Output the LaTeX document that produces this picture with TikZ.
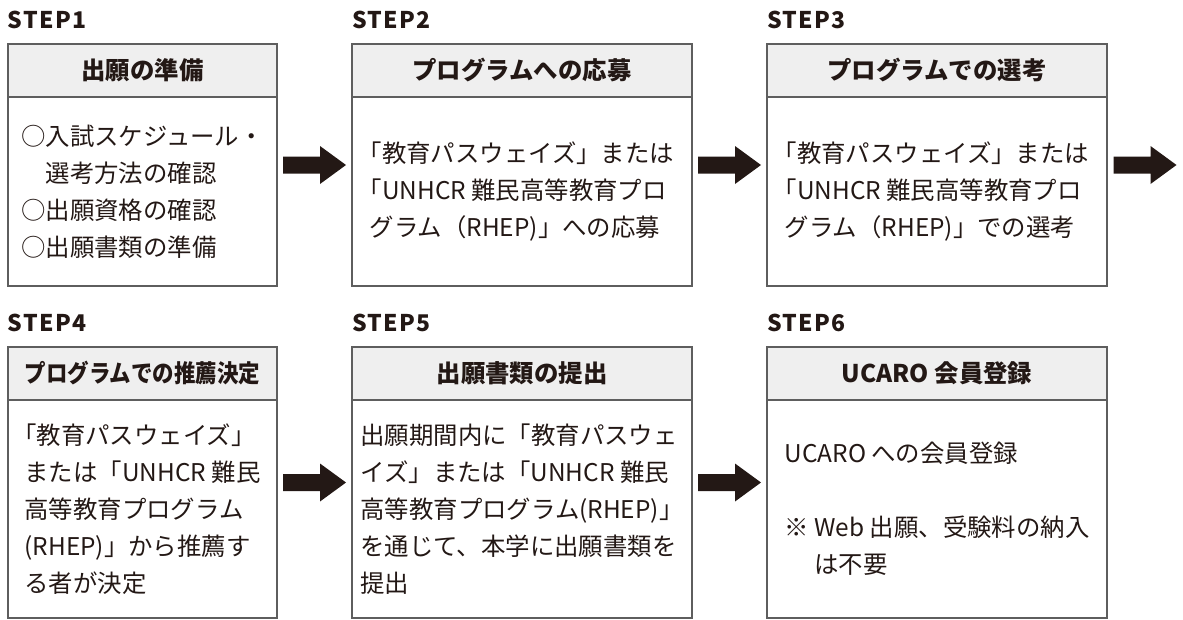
\documentclass[tikz,border=0pt]{standalone}
\usepackage{fontspec}
\setmainfont{Noto Sans CJK JP}
\usepackage{graphicx}
\usepackage{tikz}
\usetikzlibrary{positioning, calc}
\definecolor{ink}{HTML}{231815}
\definecolor{framegray}{HTML}{5E5E5E}
\definecolor{headfill}{HTML}{EFEFEF}
% half-width opening bracket at line start
\newcommand{\hq}{\kern-.5em「}
% block arrow centred between two anchors
\newcommand{\stepArrow}[2]{%
  \coordinate (am) at ($(#1)!0.5!(#2)$);
  \fill[ink] ($(am)+(-31.5,-8.5)$) -- ++(37,0) -- ++(0,-10.5) -- ++(26,19)
    -- ++(-26,19) -- ++(0,-10.5) -- ++(-37,0) -- cycle;}

\begin{document}
\begin{tikzpicture}[
  x=1pt, y=-1pt,
  every node/.style={text=ink, inner sep=0pt, outer sep=0pt},
  head/.style={rectangle, draw=framegray, line width=1.2pt, fill=headfill,
               minimum height=53pt, anchor=north west,
               font=\bfseries\fontsize{24.4}{30}\selectfont},
  body/.style={rectangle, draw=framegray, line width=1.2pt, align=left,
               font=\fontsize{24.4}{37}\selectfont},
  steplbl/.style={anchor=base west, yshift=16pt,
                  font=\bfseries\fontsize{23}{26}\selectfont\addfontfeature{LetterSpace=6}},
  colN/.style={minimum width=269pt},
  colW/.style={minimum width=340pt},
]
\useasboundingbox (0,0) rectangle (1183,619);
% Top row: STEP1-3
\node[head, colN] (hd1) at (8,44) {出願の準備};
\node[body, colN, minimum height=189pt, below=0pt of hd1] (bd1)
  {○入試スケジュール・\\　選考方法の確認\\○出願資格の確認\\○出願書類の準備};
\node[steplbl] (lb1) at (hd1.north west) {STEP1};

\node[head, colW] (hd2) at (352,44) {プログラムへの応募};
\node[body, colW, minimum height=189pt, below=0pt of hd2] (bd2)
  {\hq 教育パスウェイズ」または\\\hq UNHCR 難民高等教育プロ\\グラム（RHEP)」への応募};
\node[steplbl] (lb2) at (hd2.north west) {STEP2};

\node[head, colW] (hd3) at (767,44) {プログラムでの選考};
\node[body, colW, minimum height=189pt, below=0pt of hd3] (bd3)
  {\hq 教育パスウェイズ」または\\\hq UNHCR 難民高等教育プロ\\グラム（RHEP)」での選考};
\node[steplbl] (lb3) at (hd3.north west) {STEP3};
\coordinate[right=76pt of bd3.south east] (out3);

% Bottom row: STEP4-6
\node[head, colN] (hd4) at (8,347) {\scalebox{0.88}[1]{プログラムでの推薦決定}};
\node[body, colN, minimum height=218pt, below=0pt of hd4] (bd4)
  {\hq 教育パスウェイズ」\\または「UNHCR 難民\\高等教育プログラム\\(RHEP)」から推薦す\\る者が決定};
\node[steplbl] (lb4) at (hd4.north west) {STEP4};

\node[head, colW] (hd5) at (352,347) {出願書類の提出};
\node[body, colW, minimum height=218pt, below=0pt of hd5] (bd5)
  {出願期間内に「教育パスウェ\\イズ」または「UNHCR 難民\\高等教育プログラム(RHEP)」\\を通じて、本学に出願書類を\\提出};
\node[steplbl] (lb5) at (hd5.north west) {STEP5};

\node[head, colW] (hd6) at (767,347) {UCARO 会員登録};
\node[body, colW, minimum height=218pt, below=0pt of hd6] (bd6)
  {UCARO への会員登録\\[37pt]※ Web 出願、受験料の納入\\\phantom{※ }は不要};
\node[steplbl] (lb6) at (hd6.north west) {STEP6};

% arrows
\stepArrow{hd1.north east}{bd2.south west}
\stepArrow{hd2.north east}{bd3.south west}
\stepArrow{hd3.north east}{out3}
\stepArrow{hd4.north east}{bd5.south west}
\stepArrow{hd5.north east}{bd6.south west}
\end{tikzpicture}
\end{document}
